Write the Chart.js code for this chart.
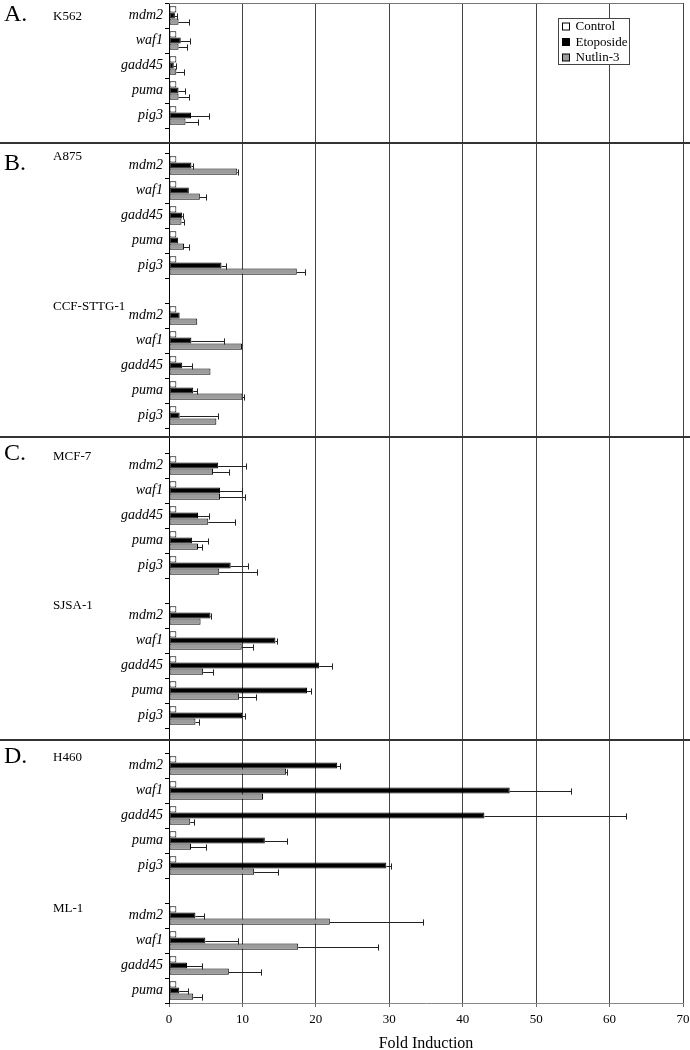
<!DOCTYPE html>
<html>
<head>
<meta charset="utf-8">
<script src="https://cdn.jsdelivr.net/npm/chart.js@4.4.1/dist/chart.umd.min.js"></script>
<style>
  html, body { margin: 0; padding: 0; background: #fff; }
  #wrap { width: 690px; height: 1050px; }
</style>
</head>
<body>
<div id="wrap"><canvas id="chart" width="690" height="1050"></canvas></div>
<script>
// one row per gene, '' rows are the gaps between cell lines
const genes = [
  'mdm2', 'waf1', 'gadd45', 'puma', 'pig3', '',
  'mdm2', 'waf1', 'gadd45', 'puma', 'pig3', '',
  'mdm2', 'waf1', 'gadd45', 'puma', 'pig3', '',
  'mdm2', 'waf1', 'gadd45', 'puma', 'pig3', '',
  'mdm2', 'waf1', 'gadd45', 'puma', 'pig3', '',
  'mdm2', 'waf1', 'gadd45', 'puma', 'pig3', '',
  'mdm2', 'waf1', 'gadd45', 'puma'
]
const cellLines = ['K562', 'A875', 'CCF-STTG-1', 'MCF-7', 'SJSA-1', 'H460', 'ML-1']
const sections = ['A.', 'B.', 'C.', 'D.']
const sectionFirstLine = [0, 1, 3, 5]   // which cell line opens each section
const seriesNames = ['Control', 'Etoposide', 'Nutlin-3']

const control = [
  1, 1, 1, 1, 1, null,
  1, 1, 1, 1, 1, null,
  1, 1, 1, 1, 1, null,
  1, 1, 1, 1, 1, null,
  1, 1, 1, 1, 1, null,
  1, 1, 1, 1, 1, null,
  1, 1, 1, 1
]
const etoposide = [
  0.8, 1.6, 0.65, 1.3, 3.0, null,
  3.05, 2.7, 1.8, 1.25, 7.15, null,
  1.45, 3.05, 1.8, 3.3, 1.45, null,
  6.7, 6.95, 3.95, 3.15, 8.4, null,
  5.65, 14.5, 20.45, 18.8, 9.95, null,
  22.9, 46.4, 42.95, 13.05, 29.6, null,
  3.6, 4.95, 2.45, 1.4
]
const etoposideErr = [
  0.35, 1.2, 0.35, 0.9, 2.5, null,
  0.25, 0, 0.1, 0, 0.6, null,
  0, 4.4, 1.35, 0.55, 5.25, null,
  3.85, 2.95, 1.5, 2.2, 2.3, null,
  0.1, 0.15, 1.8, 0.5, 0.35, null,
  0.4, 8.3, 19.35, 3.05, 0.6, null,
  1.2, 4.4, 2.05, 1.2
]
const nutlin = [
  1.3, 1.3, 1.0, 1.3, 2.25, null,
  9.3, 4.2, 1.7, 2.05, 17.4, null,
  3.85, 9.95, 5.65, 10.0, 6.45, null,
  6.0, 6.95, 5.35, 3.95, 6.85, null,
  4.3, 9.9, 4.65, 9.55, 3.6, null,
  15.95, 12.8, 2.9, 3.0, 11.6, null,
  21.9, 17.6, 8.15, 3.3
]
const nutlinErr = [
  1.4, 1.15, 1.05, 1.4, 1.7, null,
  0.1, 0.9, 0.3, 0.65, 1.1, null,
  0, 0, 0, 0.15, 0, null,
  2.2, 3.35, 3.65, 0.6, 5.2, null,
  0, 1.5, 1.35, 2.3, 0.45, null,
  0.15, 0, 0.5, 2.1, 3.2, null,
  12.7, 10.8, 4.35, 1.2
]
const xTicks = [0, 10, 20, 30, 40, 50, 60, 70]

const SERIF = "'Liberation Serif', 'Times New Roman', serif"

// first row of each cell line = row 0 plus every row after a gap
const groupStarts = [0]
genes.forEach((g, i) => { if (g === '') groupStarts.push(i + 1) })

// error whiskers, right side only
const errorBars = {
  id: 'errorBars',
  afterDatasetsDraw(chart) {
    const ctx = chart.ctx
    const x = chart.scales.x
    const errs = { 1: etoposideErr, 2: nutlinErr }
    ctx.save()
    ctx.strokeStyle = '#222'
    ctx.lineWidth = 1
    for (const [dsIndex, err] of Object.entries(errs)) {
      const meta = chart.getDatasetMeta(+dsIndex)
      const values = chart.data.datasets[dsIndex].data
      meta.data.forEach((bar, i) => {
        if (values[i] == null || !err[i]) return
        const x0 = x.getPixelForValue(values[i])
        const x1 = Math.round(x.getPixelForValue(values[i] + err[i])) + 0.5
        const y = Math.round(bar.y) + 0.5
        const h = bar.height / 2
        ctx.beginPath()
        ctx.moveTo(x0, y)
        ctx.lineTo(x1, y)
        ctx.moveTo(x1, y - h)
        ctx.lineTo(x1, y + h)
        ctx.stroke()
      })
    }
    ctx.restore()
  }
}

// section letters, cell line names, separators, frame, legend
const decorations = {
  id: 'decorations',
  afterDraw(chart) {
    const ctx = chart.ctx
    const y = chart.scales.y
    const area = chart.chartArea
    ctx.save()

    // top frame line
    ctx.strokeStyle = '#777'
    ctx.lineWidth = 1
    ctx.beginPath()
    ctx.moveTo(area.left, area.top + 0.5)
    ctx.lineTo(area.right, area.top + 0.5)
    ctx.stroke()

    // separators between sections sit in the gap row before each section
    ctx.strokeStyle = '#333'
    ctx.lineWidth = 2
    const sepNudge = [2, -4, -1]
    sectionFirstLine.slice(1).forEach((line, k) => {
      const py = Math.round(y.getPixelForValue(groupStarts[line] - 1)) + sepNudge[k]
      ctx.beginPath()
      ctx.moveTo(0, py)
      ctx.lineTo(chart.width, py)
      ctx.stroke()
    })

    // cell line labels
    ctx.fillStyle = '#000'
    ctx.textBaseline = 'middle'
    ctx.textAlign = 'left'
    ctx.font = '13px ' + SERIF
    const nudge = [1, -9, -9, -9, -10, -8, -7]
    cellLines.forEach((name, i) => {
      const py = y.getPixelForValue(groupStarts[i]) + nudge[i]
      ctx.fillText(name, 53, py)
    })

    // section letters
    ctx.font = '24px ' + SERIF
    const letterNudge = [-1, -2, -12, -9]
    sections.forEach((s, i) => {
      const py = y.getPixelForValue(groupStarts[sectionFirstLine[i]]) + letterNudge[i]
      ctx.fillText(s, 4, py)
    })

    // legend box
    const bx = 558.5, by = 18.5, bw = 71, bh = 46
    ctx.fillStyle = '#fff'
    ctx.fillRect(bx, by, bw, bh)
    ctx.strokeStyle = '#444'
    ctx.lineWidth = 1
    ctx.strokeRect(bx, by, bw, bh)
    ctx.font = '13px ' + SERIF
    chart.data.datasets.forEach((ds, i) => {
      const cy = by + 8 + i * 15.5
      ctx.fillStyle = ds.backgroundColor
      ctx.fillRect(bx + 4, cy - 3.5, 7, 7)
      ctx.strokeStyle = '#000'
      ctx.strokeRect(bx + 4, cy - 3.5, 7, 7)
      ctx.fillStyle = '#000'
      ctx.fillText(ds.label, bx + 17, cy + 0.5)
    })
    ctx.restore()
  }
}

const barStyle = {
  borderWidth: 1,
  borderColor: '#000',
  borderSkipped: false,
  categoryPercentage: 0.74,
  barPercentage: 1.0
}

new Chart(document.getElementById('chart'), {
  type: 'bar',
  data: {
    labels: genes,
    datasets: [
      { label: seriesNames[0], data: control, backgroundColor: '#ffffff', ...barStyle },
      { label: seriesNames[1], data: etoposide, backgroundColor: '#000000', ...barStyle },
      { label: seriesNames[2], data: nutlin, backgroundColor: '#9c9c9c', ...barStyle }
    ]
  },
  options: {
    indexAxis: 'y',
    responsive: false,
    animation: false,
    layout: { padding: { top: 3, right: 7, left: 0, bottom: 0 } },
    plugins: {
      legend: { display: false },
      tooltip: { enabled: false }
    },
    scales: {
      x: {
        min: 0,
        max: 70,
        afterBuildTicks: scale => { scale.ticks = xTicks.map(v => ({ value: v })) },
        afterFit: scale => {
          scale.height = 47
          scale.paddingLeft = 0
          scale.paddingRight = 0
        },
        grid: {
          color: '#444',
          lineWidth: 1,
          drawTicks: true,
          tickLength: 4,
          tickColor: '#666'
        },
        border: { color: '#888', width: 1 },
        ticks: {
          color: '#000',
          padding: 5,
          font: { family: SERIF, size: 13 }
        },
        title: {
          display: true,
          text: 'Fold Induction',
          color: '#000',
          padding: { top: 0, bottom: 0 },
          font: { family: SERIF, size: 16, lineHeight: 0.8 }
        }
      },
      y: {
        afterFit: scale => {
          scale.width = 169
          scale.paddingTop = 0
          scale.paddingBottom = 0
        },
        grid: {
          drawOnChartArea: false,
          drawTicks: true,
          tickLength: 4,
          offset: true,
          color: '#000'
        },
        border: { color: '#000', width: 1 },
        ticks: {
          autoSkip: false,
          color: '#000',
          padding: 2,
          font: { family: SERIF, size: 14, style: 'italic' }
        }
      }
    }
  },
  plugins: [errorBars, decorations]
})
</script>
</body>
</html>
